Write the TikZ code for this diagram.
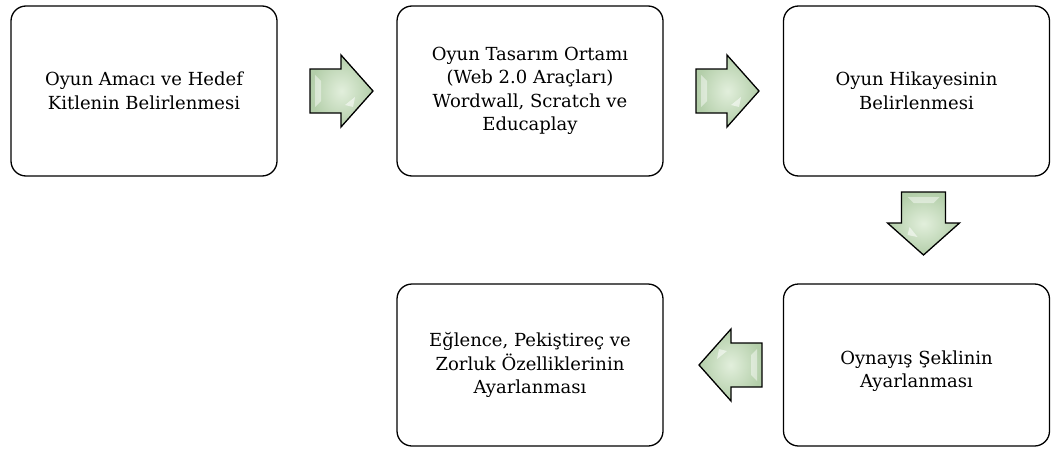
\documentclass[tikz,border=0pt]{standalone}
\usepackage{fontspec}
\setmainfont{DejaVu Serif}
\definecolor{arrlight}{HTML}{E2EFDC}
\definecolor{arrdark}{HTML}{B3CEA9}
\tikzset{
  stepbox/.style={draw=black, line width=1.3pt, rounded corners=15pt, minimum width=266pt, minimum height=170pt, align=center, font=\fontsize{18}{23.5}\selectfont, inner sep=0pt},
  arrowbody/.style={draw=black, line width=1.3pt, inner color=arrlight, outer color=arrdark},
  pics/flowarrow/.style={code={
    \path[arrowbody] (-31,-22) -- (0,-22) -- (0,-36) -- (32,0) -- (0,36) -- (0,22) -- (-31,22) -- cycle;
    \fill[white, opacity=0.55] (4,14) -- (14,6) -- (12,16) -- cycle;
    \fill[white, opacity=0.45] (-26,-16) -- (-20,-10) -- (-20,10) -- (-26,16) -- cycle;
  }}
}
\begin{document}
\begin{tikzpicture}[x=1pt,y=-1pt]
\useasboundingbox (0,0) rectangle (1059,452);
\node[stepbox] (b1) at (144,91) {Oyun Amacı ve Hedef\\Kitlenin Belirlenmesi};
\node[stepbox] (b2) at (530,91) {Oyun Tasarım Ortamı\\(Web 2.0 Araçları)\\Wordwall, Scratch ve\\Educaplay};
\node[stepbox] (b3) at (916.5,91) {Oyun Hikayesinin\\Belirlenmesi};
\node[stepbox, minimum height=162pt] (b4) at (916.5,365) {\\[2pt]Oynayış Şeklinin\\Ayarlanması};
\node[stepbox, minimum height=162pt] (b5) at (530,365) {Eğlence, Pekiştireç ve\\Zorluk Özelliklerinin\\Ayarlanması};
\pic at (341,91) {flowarrow};
\pic at (727,91) {flowarrow};
\pic[rotate=-90] at (923.5,223) {flowarrow};
\pic[rotate=180] at (731,365) {flowarrow};
\end{tikzpicture}
\end{document}
